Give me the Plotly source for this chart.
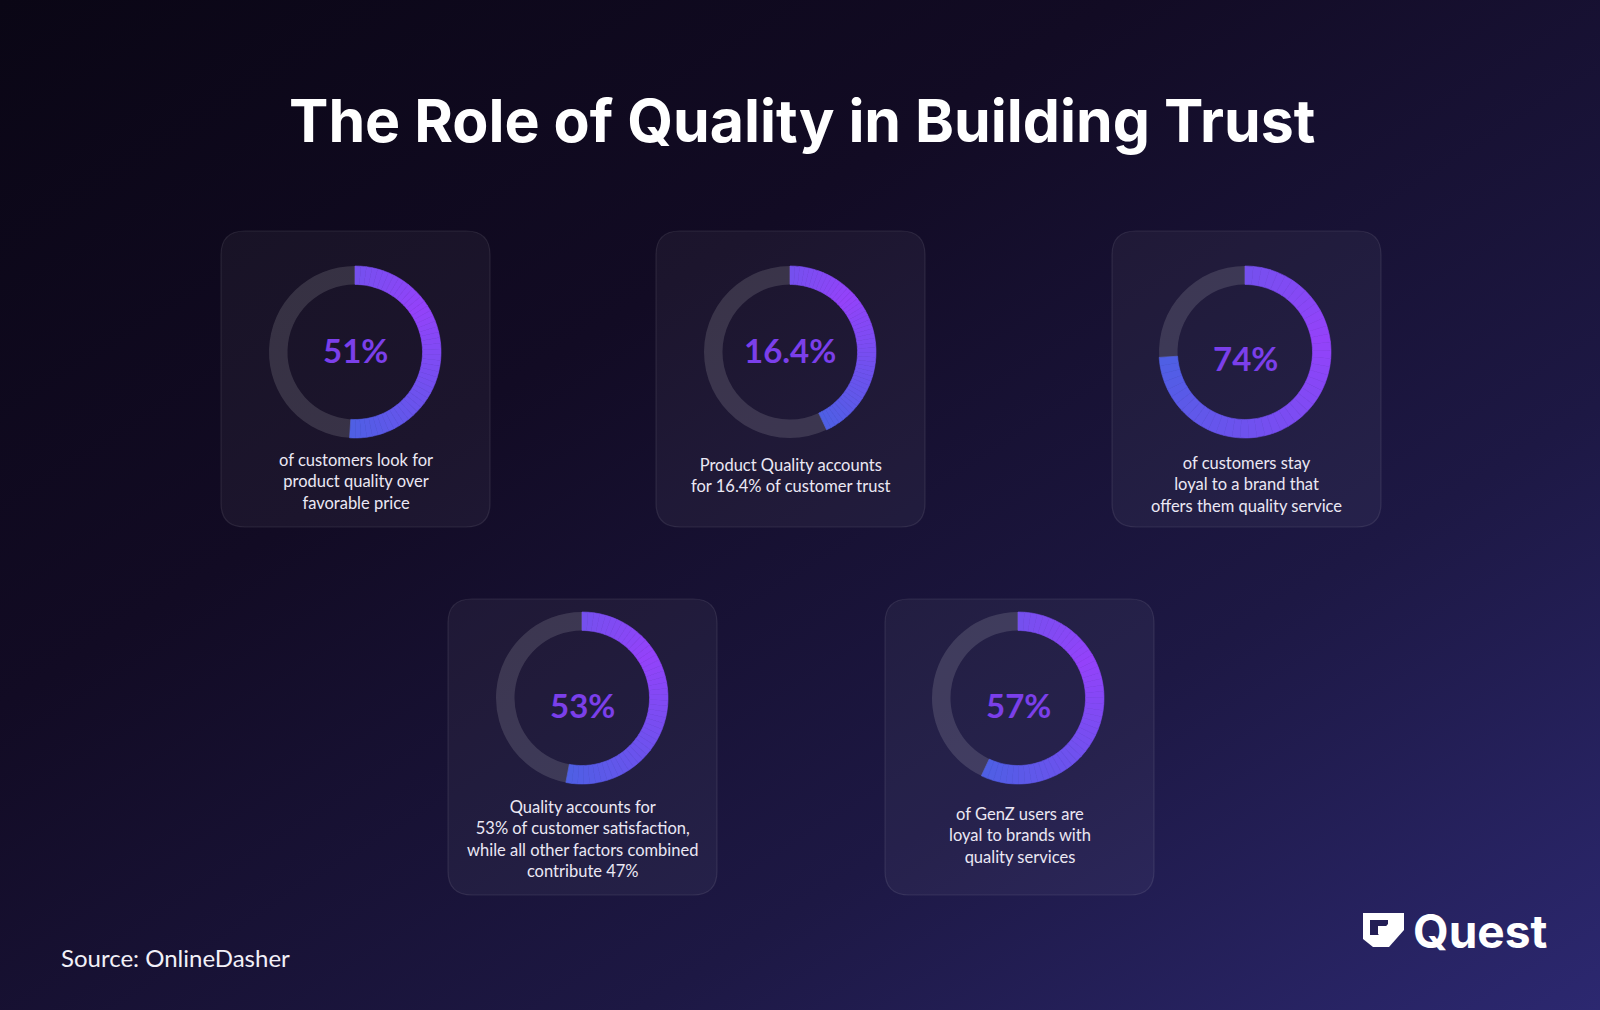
import base64
import plotly.graph_objects as go

W, H = 1600, 1010

# ---------------- data ----------------
title_text = "The Role of Quality in Building Trust"
pct_labels = ["51%", "16.4%", "74%", "53%", "57%"]
# share of each ring that is filled, as drawn in the picture
arc_values = [51, 43, 74, 53, 57]
captions = [
    "of customers look for<br>product quality over<br>favorable price",
    "Product Quality accounts<br>for 16.4% of customer trust",
    "of customers stay<br>loyal to a brand that<br>offers them quality service",
    "Quality accounts for<br>53% of customer satisfaction,<br>while all other factors combined<br>contribute 47%",
    "of GenZ users are<br>loyal to brands with<br>quality services",
]
source_text = "Source: OnlineDasher"
brand_text = "Quest"

# ---------------- layout (pixels) ----------------
card_x = [221, 656, 1112, 448, 885]
card_y = [231, 231, 231, 599, 599]
CARD_W, CARD_H, CARD_R = 269, 296, 24
donut_cx = [355, 790, 1245, 582, 1018]
donut_cy = [352, 352, 352, 698, 698]
pct_y = [349, 349, 357, 704, 704]
cap_y = [481, 475, 484.5, 839, 835.5]
R_OUT = 86
HOLE = 0.785
N_SEG = 48

FONT = "Lato"
PURPLE_TXT = "#7B3FEA"
TRACK = "rgba(255,255,255,0.13)"


def hex2rgb(h):
    h = h.lstrip("#")
    return tuple(int(h[i:i + 2], 16) for i in (0, 2, 4))


def mix(c1, c2, t):
    a, b = hex2rgb(c1), hex2rgb(c2)
    return "rgb(%d,%d,%d)" % tuple(round(a[i] + (b[i] - a[i]) * t) for i in range(3))


START_C, MID_C, END_C = "#7450EE", "#9442FA", "#4E5FE4"


def grad(t):
    if t < 0.3:
        return mix(START_C, MID_C, t / 0.3)
    return mix(MID_C, END_C, (t - 0.3) / 0.7)


fig = go.Figure()

# background gradient as svg image
svg = f'''<svg xmlns="http://www.w3.org/2000/svg" width="{W}" height="{H}" viewBox="0 0 {W} {H}" preserveAspectRatio="none">
<defs>
<linearGradient id="g" x1="0" y1="0" x2="1" y2="1">
<stop offset="0" stop-color="#0a0615"/>
<stop offset="0.35" stop-color="#120b24"/>
<stop offset="0.7" stop-color="#1d1844"/>
<stop offset="1" stop-color="#2c2870"/>
</linearGradient>
</defs>
<rect width="{W}" height="{H}" fill="url(#g)"/>
</svg>'''
uri = "data:image/svg+xml;base64," + base64.b64encode(svg.encode()).decode()

shapes = []
for x0, y0 in zip(card_x, card_y):
    x1, y1, r = x0 + CARD_W, y0 + CARD_H, CARD_R
    path = (f"M{x0+r},{y0} L{x1-r},{y0} Q{x1},{y0} {x1},{y0+r} L{x1},{y1-r} "
            f"Q{x1},{y1} {x1-r},{y1} L{x0+r},{y1} Q{x0},{y1} {x0},{y1-r} "
            f"L{x0},{y0+r} Q{x0},{y0} {x0+r},{y0} Z")
    shapes.append(dict(type="path", path=path, xref="x", yref="y", layer="below",
                       fillcolor="rgba(255,255,255,0.045)",
                       line=dict(color="rgba(255,255,255,0.09)", width=1.2)))

# logo icon
shapes.append(dict(type="path", xref="x", yref="y", layer="above",
                   path="M1363,913 L1404,913 L1404,930 L1389,947 L1373,947 L1363,939 Z",
                   fillcolor="white", line=dict(width=0)))
shapes.append(dict(type="path", xref="x", yref="y", layer="above",
                   path="M1370,920 L1388,920 L1388,924 L1378,935 L1370,935 Z",
                   fillcolor="#221d55", line=dict(width=0)))
shapes.append(dict(type="rect", xref="x", yref="y", layer="above",
                   x0=1378, x1=1386, y0=926, y1=934,
                   fillcolor="white", line=dict(width=0)))

for i, v in enumerate(arc_values):
    seg_vals = [v / N_SEG] * N_SEG + [100 - v]
    seg_cols = [grad((k + 0.5) / N_SEG) for k in range(N_SEG)] + [TRACK]
    line_cols = seg_cols[:-1] + ["rgba(0,0,0,0)"]
    cx, cy = donut_cx[i], donut_cy[i]
    fig.add_trace(go.Pie(
        values=seg_vals, sort=False, direction="clockwise", rotation=0,
        hole=HOLE, textinfo="none", hoverinfo="skip", showlegend=False,
        marker=dict(colors=seg_cols, line=dict(color=line_cols, width=0.6)),
        domain=dict(x=[(cx - R_OUT) / W, (cx + R_OUT) / W],
                    y=[1 - (cy + R_OUT) / H, 1 - (cy - R_OUT) / H]),
    ))

annotations = [
    dict(text=title_text, x=W / 2 + 2, y=120, xref="x", yref="y", showarrow=False,
         font=dict(family="Inter", size=59, color="white", weight=700)),
    dict(text=source_text, x=59, y=957, xref="x", yref="y", xanchor="left",
         showarrow=False, font=dict(family=FONT, size=24, color="#f2f0f8")),
    dict(text=brand_text, x=1411, y=931, xref="x", yref="y", xanchor="left",
         showarrow=False, font=dict(family="Inter", size=46, color="white", weight=700)),
]
for i in range(len(pct_labels)):
    annotations.append(dict(text=pct_labels[i], x=donut_cx[i], y=pct_y[i] + 1,
                            xref="x", yref="y", showarrow=False,
                            font=dict(family=FONT, size=33, color=PURPLE_TXT, weight=700)))
    annotations.append(dict(text=captions[i], x=card_x[i] + CARD_W / 2, y=cap_y[i],
                            xref="x", yref="y", showarrow=False, align="center",
                            font=dict(family=FONT, size=16.5, color="#ebe8f4")))

fig.update_layout(
    width=W, height=H, margin=dict(l=0, r=0, t=0, b=0),
    paper_bgcolor="#100b22", plot_bgcolor="rgba(0,0,0,0)",
    xaxis=dict(range=[0, W], visible=False, fixedrange=True),
    yaxis=dict(range=[H, 0], visible=False, fixedrange=True),
    images=[dict(source=uri, xref="paper", yref="paper", x=0, y=1, sizex=1, sizey=1,
                 sizing="stretch", xanchor="left", yanchor="top", layer="below")],
    shapes=shapes, annotations=annotations,
)

fig.write_html("out.html", config=dict(displayModeBar=False))
